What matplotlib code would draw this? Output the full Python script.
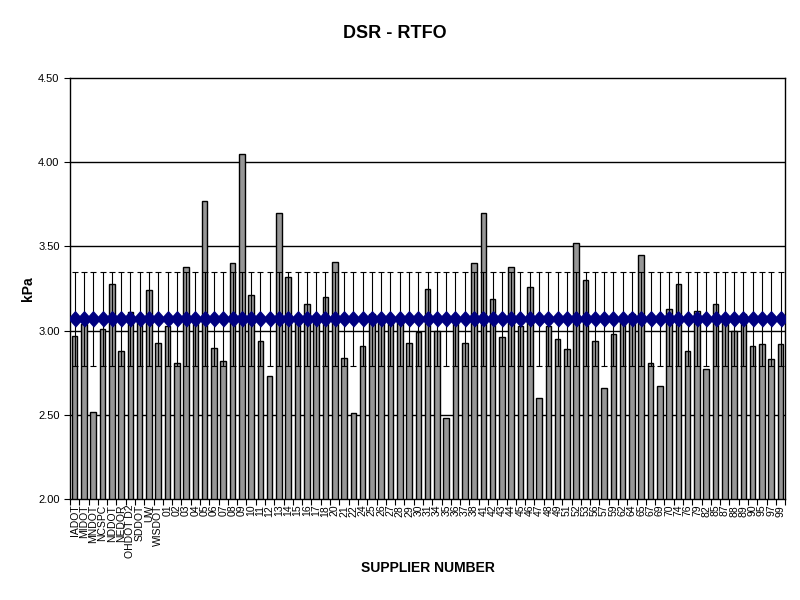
import numpy as np
import matplotlib
matplotlib.use("Agg")
import matplotlib.pyplot as plt

plt.rcParams['font.family'] = ['Liberation Sans', 'DejaVu Sans']

# Proveedores (eje x)
proveedores = ['IADOT', 'MIDOT', 'MNDOT', 'NCSPC', 'NDDOT', 'NEDOR', 'OHDOT D2', 'SDDOT', 'UW', 'WISDOT',
               '01', '02', '03', '04', '05', '06', '07', '08', '09', '10', '11', '12', '13', '14', '15',
               '16', '17', '18', '20', '21', '22', '24', '25', '26', '27', '28', '29', '30', '31', '34',
               '35', '36', '37', '38', '41', '42', '43', '44', '45', '46', '47', '48', '49', '51', '52',
               '53', '56', '57', '59', '62', '64', '65', '67', '69', '70', '74', '76', '79', '82', '85',
               '87', '88', '89', '90', '95', '97', '99']

# Valores DSR en kPa
dsr = [2.97, 3.04, 2.52, 3.01, 3.28, 2.88, 3.11, 3.05, 3.24, 2.93,
       3.03, 2.81, 3.38, 3.05, 3.77, 2.90, 2.82, 3.40, 4.05, 3.21, 2.94, 2.73, 3.70, 3.32, 3.06,
       3.16, 3.05, 3.20, 3.41, 2.84, 2.51, 2.91, 3.10, 3.05, 3.05, 3.05, 2.93, 2.99, 3.25, 3.00,
       2.48, 3.05, 2.93, 3.40, 3.70, 3.19, 2.96, 3.38, 3.03, 3.26, 2.60, 3.03, 2.95, 2.89, 3.52,
       3.30, 2.94, 2.66, 2.98, 3.05, 3.10, 3.45, 2.81, 2.67, 3.13, 3.28, 2.88, 3.12, 2.77, 3.16,
       3.05, 3.00, 3.10, 2.91, 2.92, 2.83, 2.92]

promedio = 3.07
desv = 0.28
yticks = [2.00, 2.50, 3.00, 3.50, 4.00, 4.50]

n = len(proveedores)
x = np.arange(n)
media = [promedio] * n

fig = plt.figure(figsize=(8, 6), dpi=100)
ax = fig.add_axes([0.0875, 0.168, 0.894, 0.702])

for v in yticks[1:-1]:
    ax.axhline(v, color='black', lw=1, zorder=1)

ax.bar(x, dsr, width=0.6, color='#969696', edgecolor='black', linewidth=1, zorder=2)
ax.errorbar(x, media, yerr=desv, fmt='none', ecolor='black', elinewidth=0.8,
            capsize=2.4, capthick=0.8, zorder=3)
ax.plot(x, media, color='#000080', lw=2.5, marker=[(-0.9, 0), (0, 1), (0.9, 0), (0, -1)],
        markersize=11, zorder=4)

ax.set_xlim(-0.5, n - 0.5)
ax.set_ylim(2.0, 4.5)
ax.set_yticks(yticks)
ax.set_yticklabels(['%.2f' % v for v in yticks], fontsize=8)
ax.tick_params(axis='y', direction='out', length=4, width=0.8)

ax.set_xticks(x)
ax.set_xticklabels(proveedores, rotation=90, fontsize=7.5)
ax.set_xticks(np.arange(n + 1) - 0.5, minor=True)
ax.tick_params(axis='x', which='major', length=0, pad=4)
ax.tick_params(axis='x', which='minor', direction='out', length=4, width=0.8)

for s in ax.spines.values():
    s.set_linewidth(1)

ax.set_xlabel('SUPPLIER NUMBER', fontsize=10, fontweight='bold')
ax.xaxis.set_label_coords(0.5, -0.147)
ax.set_ylabel('kPa', fontsize=10, fontweight='bold')
ax.yaxis.set_label_coords(-0.049, 0.5)

fig.text(0.494, 1 - 33 / 600, 'DSR - RTFO', ha='center', va='center', fontsize=13, fontweight='bold')

plt.savefig('out.png', dpi=100)
